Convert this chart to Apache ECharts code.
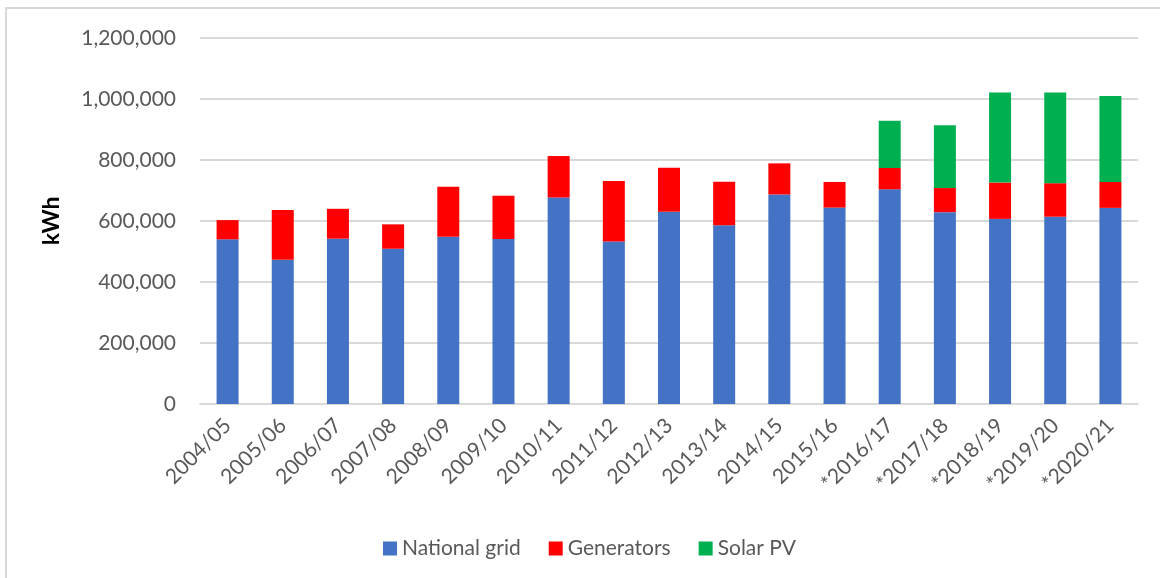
<!DOCTYPE html>
<html lang="en">
<head>
  <meta charset="UTF-8">
  <title>Electricity consumption</title>
  <style>
    html, body { margin: 0; padding: 0; background: #fff; }
    #chart { width: 1160px; height: 578px; }
  </style>
</head>
<body>
  <div id="chart"></div>

  <script src="https://cdn.jsdelivr.net/npm/echarts@6/dist/echarts.min.js"></script>
  <script>
    // Data (kWh per year)
    var years = ['2004/05', '2005/06', '2006/07', '2007/08', '2008/09', '2009/10', '2010/11',
      '2011/12', '2012/13', '2013/14', '2014/15', '2015/16',
      '*2016/17', '*2017/18', '*2018/19', '*2019/20', '*2020/21'];
    var nationalGrid = [540000, 473000, 542000, 509000, 548000, 541000, 677000, 533000, 630000,
      586000, 687000, 644000, 704000, 629000, 607000, 614000, 643000];
    var generators = [63000, 163000, 98000, 80000, 164000, 142000, 136000, 198000, 145000,
      143000, 102000, 84000, 70000, 79000, 119000, 110000, 85000];
    var solarPV = [0, 0, 0, 0, 0, 0, 0, 0, 0, 0, 0, 0, 155000, 206000, 295000, 297000, 282000];

    var textColor = '#595959';
    var font = 'Lato';

    var myChart = echarts.init(document.getElementById('chart'));

    var option = {
      animation: false,
      textStyle: { fontFamily: font },
      graphic: [
        {
          type: 'rect',
          shape: { x: 6, y: 8, width: 1200, height: 600 },
          style: { fill: 'none', stroke: '#d9d9d9', lineWidth: 2 },
          silent: true
        }
      ],
      grid: {
        left: 200,
        right: 22,
        top: 38,
        bottom: 174
      },
      legend: {
        left: 378,
        top: 533,
        itemWidth: 14,
        itemHeight: 14,
        itemGap: 28,
        icon: 'rect',
        textStyle: { color: textColor, fontSize: 21, fontFamily: font },
        data: ['National grid', 'Generators', 'Solar PV']
      },
      xAxis: {
        type: 'category',
        data: years,
        axisLine: { lineStyle: { color: '#d9d9d9', width: 2 } },
        axisTick: { show: false },
        axisLabel: {
          color: textColor,
          fontSize: 21,
          rotate: 45,
          margin: 18,
          interval: 0
        }
      },
      yAxis: {
        type: 'value',
        min: 0,
        max: 1200000,
        interval: 200000,
        name: 'kWh',
        nameLocation: 'middle',
        nameRotate: 90,
        nameGap: 137,
        nameTextStyle: { color: '#000', fontSize: 23, fontWeight: 'bold', fontFamily: font },
        axisLine: { show: false },
        axisTick: { show: false },
        splitLine: { lineStyle: { color: '#d9d9d9', width: 2 } },
        axisLabel: {
          color: textColor,
          fontSize: 21,
          margin: 24,
          formatter: function (v) { return v.toLocaleString('en-US'); }
        }
      },
      series: [
        {
          name: 'National grid',
          type: 'bar',
          stack: 'total',
          barWidth: 22,
          data: nationalGrid,
          itemStyle: { color: '#4472c4' }
        },
        {
          name: 'Generators',
          type: 'bar',
          stack: 'total',
          barWidth: 22,
          data: generators,
          itemStyle: { color: '#ff0000' }
        },
        {
          name: 'Solar PV',
          type: 'bar',
          stack: 'total',
          barWidth: 22,
          data: solarPV,
          itemStyle: { color: '#00b050' }
        }
      ]
    };

    myChart.setOption(option);
  </script>
</body>
</html>
